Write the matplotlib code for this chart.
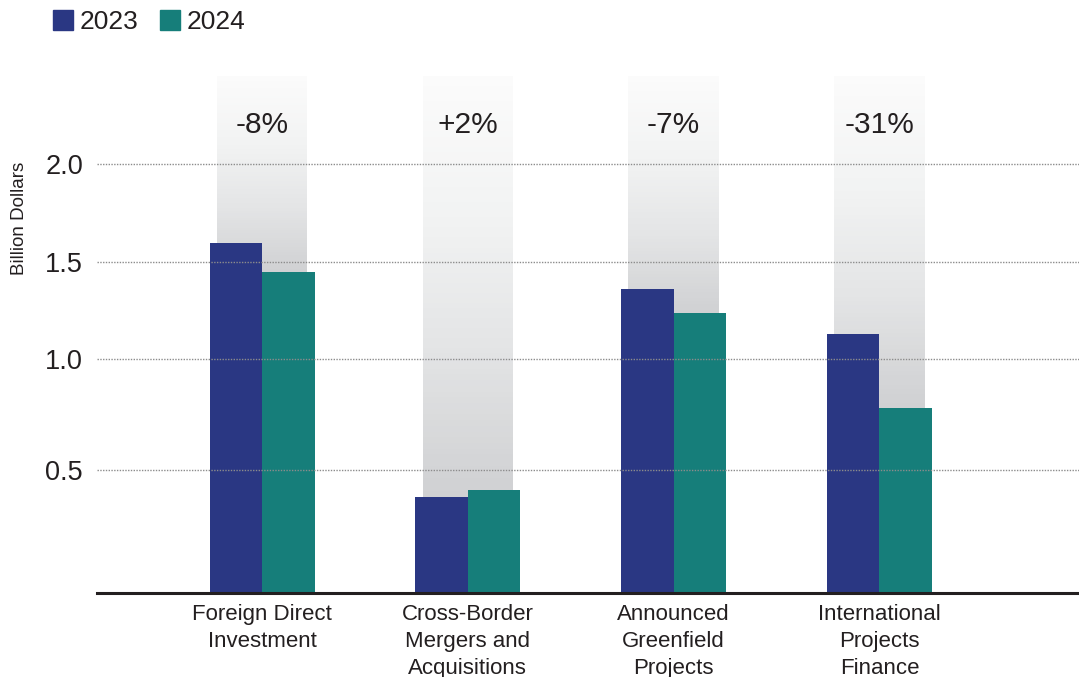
import matplotlib
matplotlib.use("Agg")
import matplotlib.pyplot as plt
import numpy as np
from matplotlib.patches import Patch
from matplotlib.colors import LinearSegmentedColormap

plt.rcParams["font.family"] = ["Liberation Sans", "DejaVu Sans"]

categories = ["Foreign Direct\nInvestment",
              "Cross-Border\nMergers and\nAcquisitions",
              "Announced\nGreenfield\nProjects",
              "International\nProjects\nFinance"]
values_2023 = [1.60, 0.39, 1.36, 1.13]
values_2024 = [1.45, 0.42, 1.24, 0.78]
changes = ["-8%", "+2%", "-7%", "-31%"]
series_names = ["2023", "2024"]
yticks = [0.5, 1.0, 1.5, 2.0]

# the source axis is not evenly spaced; reproduce it with a piecewise scale
scale_vals = [-0.5, 0.0, 0.5, 1.0, 1.5, 2.0, 3.0]
scale_pos = [-123, 0, 123, 234, 331, 429, 625]


def forward(v):
    return np.interp(v, scale_vals, scale_pos)


def inverse(p):
    return np.interp(p, scale_pos, scale_vals)


C23 = "#2a3783"
C24 = "#167e7a"
TXT = "#231f20"
TOP = 2.45

fig = plt.figure(figsize=(10.79, 6.77), dpi=100)
ax = fig.add_axes([97 / 1079, 84 / 677, 1 - 97 / 1079, (593 - 76) / 677])
ax.set_yscale("function", functions=(forward, inverse))

x = np.arange(len(categories))
w = 0.255
band_w = 0.44

# gradient bands behind each group
cmap = LinearSegmentedColormap.from_list("band", ["#fbfbfb", "#f2f3f3", "#e4e5e6", "#d0d1d3"])
n = 80
for i in range(len(categories)):
    end = min(values_2023[i], values_2024[i])
    edges = np.linspace(TOP, end, n + 1)
    for k in range(n):
        ax.bar(x[i], edges[k] - edges[k + 1], bottom=edges[k + 1], width=band_w,
               color=cmap(k / (n - 1)), linewidth=0, zorder=0)
    ax.bar(x[i], end, bottom=0, width=band_w, color=cmap(1.0), linewidth=0, zorder=0)

ax.bar(x - w / 2, values_2023, w, color=C23, zorder=2, linewidth=0)
ax.bar(x + w / 2, values_2024, w, color=C24, zorder=2, linewidth=0)

for i, txt in enumerate(changes):
    ax.text(x[i], 2.2, txt, ha="center", va="center", fontsize=21.5, color=TXT, zorder=4)

ax.axhline(0, color=TXT, lw=2.2, zorder=3, clip_on=False)

ax.set_ylim(0, TOP)
ax.set_xlim(-0.802, 3.97)
ax.set_yticks(yticks)
ax.set_yticklabels([f"{t:.1f}" for t in yticks], fontsize=19.5, color=TXT)
ax.set_xticks(x)
ax.set_xticklabels(categories, fontsize=16, color=TXT, linespacing=1.37)
ax.tick_params(axis="both", length=0)
ax.tick_params(axis="y", pad=10)
ax.tick_params(axis="x", pad=8)
ax.yaxis.grid(True, color="#8c8c8c", linestyle=(0, (1, 1)), linewidth=1.0, zorder=1)
ax.set_axisbelow(False)
for s in ax.spines.values():
    s.set_visible(False)

fig.text(20 / 1079, 1 - 218 / 677, "Billion Dollars", rotation=90, ha="center",
         va="center", fontsize=13.5, color=TXT)

handles = [Patch(color=C23), Patch(color=C24)]
fig.legend(handles, series_names, loc="upper left", bbox_to_anchor=(0.027, 1.02),
           ncol=2, frameon=False, fontsize=19, handlelength=0.75, handleheight=0.8,
           handletextpad=0.25, columnspacing=0.85, labelcolor=TXT)

fig.savefig("out.png", dpi=100)
